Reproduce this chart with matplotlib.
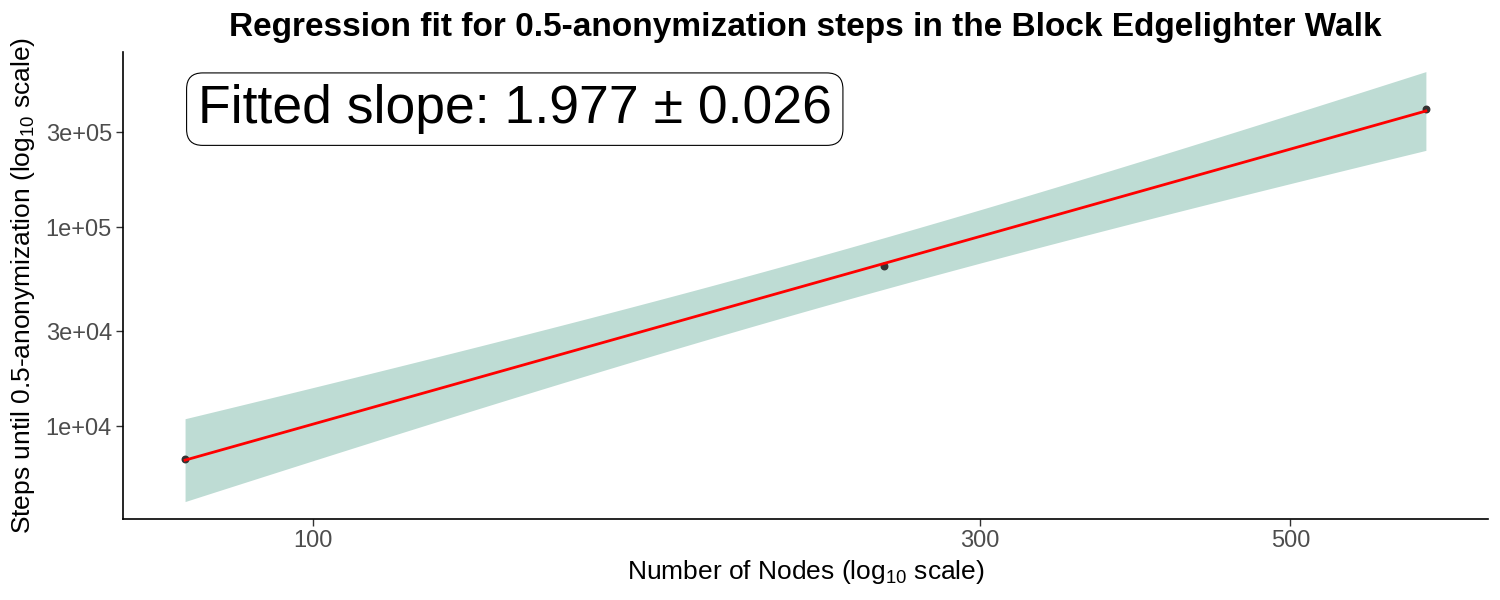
import numpy as np
import matplotlib
matplotlib.use("Agg")
import matplotlib.pyplot as plt
from matplotlib.ticker import FixedLocator, FixedFormatter, NullLocator

plt.rcParams['font.family'] = ['Liberation Sans', 'DejaVu Sans']
plt.rcParams['mathtext.fontset'] = 'custom'
plt.rcParams['mathtext.rm'] = 'Liberation Sans'
plt.rcParams['mathtext.it'] = 'Liberation Sans:italic'
plt.rcParams['mathtext.bf'] = 'Liberation Sans:bold'

# data
nodes = [81, 256, 625]
steps = [6840, 63500, 390500]
slope_text = "Fitted slope: 1.977 \u00b1 0.026"
x_ticks = [100, 300, 500]
y_ticks = [1e4, 3e4, 1e5, 3e5]
y_tick_labels = ["1e+04", "3e+04", "1e+05", "3e+05"]

# lm fit on log10 scale, same as geom_smooth(method="lm")
lx = np.log10(nodes)
ly = np.log10(steps)
b, a = np.polyfit(lx, ly, 1)
resid = ly - (a + b * lx)
n = len(lx)
s = np.sqrt(np.sum(resid ** 2) / (n - 2))
sxx = np.sum((lx - lx.mean()) ** 2)
t975 = 12.706  # t quantile, df = 1

grid = np.linspace(lx.min(), lx.max(), 80)
fit = a + b * grid
se = s * np.sqrt(1 / n + (grid - lx.mean()) ** 2 / sxx)

fig = plt.figure(figsize=(15, 6), dpi=100)
ax = fig.add_axes([0.082, 0.135, 0.910, 0.778])

ax.fill_between(10 ** grid, 10 ** (fit - t975 * se), 10 ** (fit + t975 * se),
                color='#bedcd4', linewidth=0, zorder=1)
ax.scatter(nodes, steps, s=22, color='#333333', zorder=2)
ax.plot(10 ** grid, 10 ** fit, color='red', linewidth=2.0, zorder=3)

ax.set_xscale('log')
ax.set_yscale('log')
ax.set_xlim(10 ** 1.8641, 10 ** 2.8403)
ax.set_ylim(10 ** 3.533, 10 ** 5.879)

ax.xaxis.set_major_locator(FixedLocator(x_ticks))
ax.xaxis.set_major_formatter(FixedFormatter([str(v) for v in x_ticks]))
ax.xaxis.set_minor_locator(NullLocator())
ax.yaxis.set_major_locator(FixedLocator(y_ticks))
ax.yaxis.set_major_formatter(FixedFormatter(y_tick_labels))
ax.yaxis.set_minor_locator(NullLocator())

for side in ['top', 'right']:
    ax.spines[side].set_visible(False)
for side in ['left', 'bottom']:
    ax.spines[side].set_linewidth(1.2)
ax.tick_params(axis='both', length=5, width=1, color='#333333',
               labelcolor='#4d4d4d', labelsize=17, pad=3)

ax.set_xlabel(r'Number of Nodes (log$_{\mathregular{10}}$ scale)', fontsize=19, labelpad=4)
ax.set_ylabel(r'Steps until 0.5-anonymization (log$_{\mathregular{10}}$ scale)', fontsize=19, labelpad=6)
ax.set_title('Regression fit for 0.5-anonymization steps in the Block Edgelighter Walk',
             fontsize=24, fontweight='bold', pad=12)

ax.text(0.287, 0.878, slope_text, transform=ax.transAxes, fontsize=38.5,
        ha='center', va='center',
        bbox=dict(boxstyle='round,pad=0.21,rounding_size=0.3', facecolor='white',
                  edgecolor='black', linewidth=0.8))

fig.savefig('out.png', dpi=100)
